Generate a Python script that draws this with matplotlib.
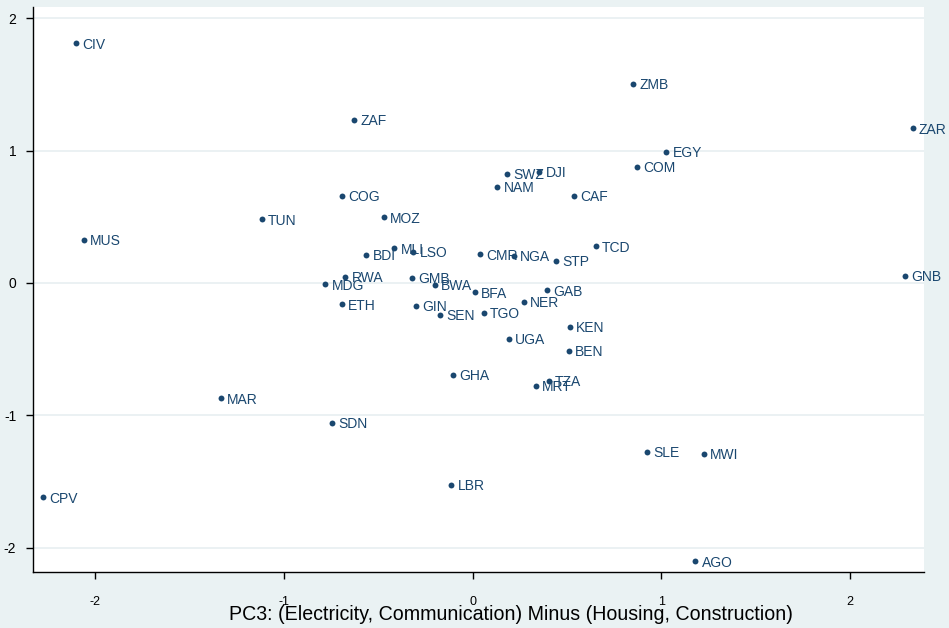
import matplotlib
matplotlib.use("Agg")
import matplotlib.pyplot as plt

codes = ["CIV", "MUS", "TUN", "ZAF", "COG", "MOZ", "SWZ", "DJI", "NAM", "CAF",
         "BDI", "MLI", "LSO", "CMR", "NGA", "STP", "TCD", "RWA", "MDG", "GMB",
         "BWA", "BFA", "GAB", "NER", "ETH", "GIN", "SEN", "TGO", "ZMB", "ZAR",
         "EGY", "COM", "GNB", "MAR", "CPV", "KEN", "UGA", "BEN", "GHA", "TZA",
         "MRT", "SDN", "LBR", "SLE", "MWI", "AGO"]
pc3 = [-2.099, -2.058, -1.117, -0.629, -0.691, -0.470, 0.183, 0.353, 0.132, 0.537,
       -0.562, -0.415, -0.313, 0.040, 0.220, 0.443, 0.653, -0.673, -0.779, -0.320,
       -0.200, 0.011, 0.394, 0.272, -0.693, -0.302, -0.172, 0.060, 0.850, 2.332,
       1.026, 0.869, 2.293, -1.335, -2.276, 0.516, 0.192, 0.510, -0.103, 0.404,
       0.337, -0.746, -0.113, 0.927, 1.224, 1.180]
yval = [1.810, 0.327, 0.480, 1.231, 0.659, 0.495, 0.826, 0.838, 0.727, 0.659,
        0.211, 0.261, 0.234, 0.216, 0.206, 0.168, 0.276, 0.048, -0.011, 0.038,
        -0.013, -0.071, -0.056, -0.141, -0.162, -0.174, -0.239, -0.224, 1.505, 1.168,
        0.992, 0.878, 0.053, -0.872, -1.619, -0.330, -0.423, -0.511, -0.693, -0.738,
        -0.776, -1.055, -1.526, -1.274, -1.292, -2.103]
xticks = [-2, -1, 0, 1, 2]
yticks = [-2, -1, 0, 1, 2]
xlabel = "PC3: (Electricity, Communication) Minus (Housing, Construction)"

BG = "#eaf2f3"
NAVY = "#1a476f"
plt.rcParams["font.family"] = ["Liberation Sans", "DejaVu Sans"]

W, H = 949, 628
fig = plt.figure(figsize=(W / 100, H / 100), dpi=100, facecolor=BG)
ax = fig.add_axes([33 / W, (H - 572.3) / H, (924 - 33) / W, (572.3 - 7) / H])
ax.set_facecolor("white")

ax.set_xlim(-2.3285, 2.392)
ax.set_ylim(-2.186, 2.085)

for yt in yticks:
    ax.axhline(yt, color="#e8eff1", lw=1.2, zorder=0)

ax.scatter(pc3, yval, s=18, color=NAVY, zorder=3, linewidths=0)
for c, x, y in zip(codes, pc3, yval):
    ax.annotate(c, (x, y), xytext=(4.5, -1), textcoords="offset points",
                va="center", ha="left", fontsize=10, color=NAVY, zorder=4)

for side in ["top", "right"]:
    ax.spines[side].set_visible(False)
for side in ["left", "bottom"]:
    ax.spines[side].set_color("black")
    ax.spines[side].set_linewidth(1.0)

ax.set_xticks(xticks)
ax.set_yticks(yticks)
ax.set_xticklabels([str(t) for t in xticks])
ax.set_yticklabels([str(t) for t in yticks])
ax.tick_params(axis="both", direction="out", length=5, width=1, colors="black")
ax.tick_params(axis="x", pad=12, labelsize=9)
ax.tick_params(axis="y", pad=7, labelsize=10)

fig.text(510.8 / W, (H - 620) / H, xlabel, fontsize=14.1, color="black",
         ha="center", va="baseline")

fig.savefig("out.png", dpi=100, facecolor=BG)
